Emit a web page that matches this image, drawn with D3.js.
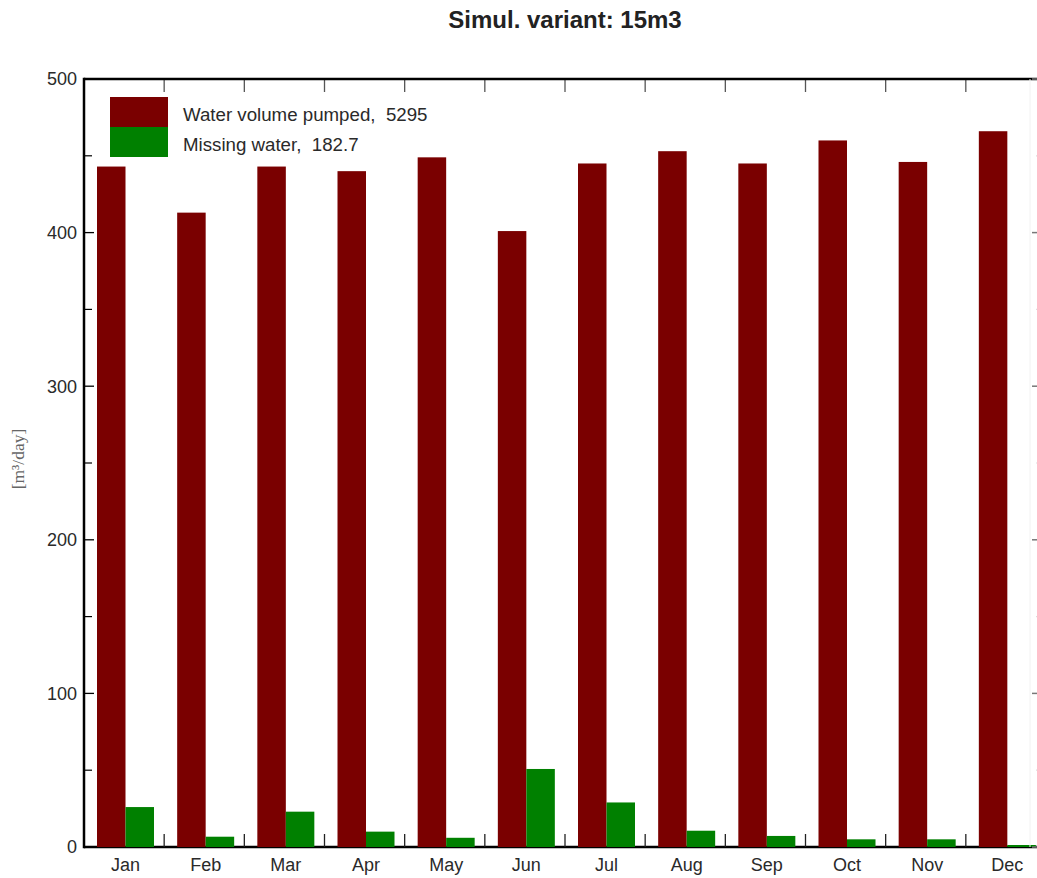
<!DOCTYPE html>
<html>
<head>
<meta charset="utf-8">
<script src="https://cdn.jsdelivr.net/npm/d3@7"></script>
<style>
  html, body { margin: 0; padding: 0; background: #fff; }
  svg { display: block; }
</style>
</head>
<body>
<svg id="chart" width="1037" height="878"></svg>
<script>
// Monthly pumped volume and missing water, simulation variant 15m3
const months = ["Jan", "Feb", "Mar", "Apr", "May", "Jun", "Jul", "Aug", "Sep", "Oct", "Nov", "Dec"];
const pumped = [443, 413, 443, 440, 449, 401, 445, 453, 445, 460, 446, 466];
const missing = [26, 6.7, 23, 10, 6, 50.8, 29, 10.6, 7.2, 5, 5, 1.3];
const yTicks = [0, 100, 200, 300, 400, 500];
const yMinorTicks = [50, 150, 250, 350, 450];
const seriesNames = ["Water volume pumped,  5295", "Missing water,  182.7"];
const seriesColors = ["#7a0000", "#008000"];

const svg = d3.select("#chart");
const plotLeft = 84, plotRight = 1046, plotTop = 79, plotBottom = 847;

const x = d3.scaleBand().domain(months).range([plotLeft, plotRight]).padding(0);
const sub = d3.scaleBand().domain([0, 1]).range([13, 70]).padding(0);
const y = d3.scaleLinear().domain([0, 500]).range([plotBottom, plotTop]);

// bottom axis line (bars are painted over it)
svg.append("line")
  .attr("x1", plotLeft).attr("x2", plotRight).attr("y1", plotBottom).attr("y2", plotBottom)
  .attr("stroke", "#000").attr("stroke-width", 2.5);

// separator ticks between months
const seps = months.slice(1).map(m => x(m));
svg.selectAll("line.sepBottom").data(seps).join("line")
  .attr("class", "sepBottom")
  .attr("x1", d => d).attr("x2", d => d)
  .attr("y1", plotBottom).attr("y2", plotBottom - 13)
  .attr("stroke", "#222").attr("stroke-width", 1.3);
svg.selectAll("line.sepTop").data(seps).join("line")
  .attr("class", "sepTop")
  .attr("x1", d => d).attr("x2", d => d)
  .attr("y1", plotTop).attr("y2", plotTop + 13)
  .attr("stroke", "#555").attr("stroke-width", 1.3);

// bars
const groups = svg.selectAll("g.month").data(months).join("g")
  .attr("class", "month")
  .attr("transform", d => `translate(${x(d)},0)`);
groups.append("rect")
  .attr("x", sub(0)).attr("width", sub.bandwidth())
  .attr("y", (d, i) => y(pumped[i]))
  .attr("height", (d, i) => y(0) - y(pumped[i]))
  .attr("fill", seriesColors[0]);
groups.append("rect")
  .attr("x", sub(1)).attr("width", sub.bandwidth())
  .attr("y", (d, i) => y(missing[i]))
  .attr("height", (d, i) => y(0) - y(missing[i]))
  .attr("fill", seriesColors[1]);

// month labels
svg.selectAll("text.month").data(months).join("text")
  .attr("class", "month")
  .attr("x", d => x(d) + sub(1))
  .attr("y", 871)
  .attr("text-anchor", "middle")
  .attr("font-family", "Liberation Sans, Arial, sans-serif")
  .attr("font-size", 18)
  .attr("fill", "#2a2a2a")
  .text(d => d);

// frame: left and top
svg.append("line")
  .attr("x1", plotLeft).attr("x2", plotLeft).attr("y1", plotTop - 1.25).attr("y2", plotBottom + 1.25)
  .attr("stroke", "#000").attr("stroke-width", 2.5);
svg.append("line")
  .attr("x1", plotLeft).attr("x2", plotRight).attr("y1", plotTop).attr("y2", plotTop)
  .attr("stroke", "#000").attr("stroke-width", 2.5);
svg.append("line")
  .attr("x1", 1030).attr("x2", 1030).attr("y1", plotTop).attr("y2", plotBottom)
  .attr("stroke", "#f2f2f2").attr("stroke-width", 1);

// left axis ticks
svg.selectAll("line.ytick").data(yTicks).join("line")
  .attr("class", "ytick")
  .attr("x1", plotLeft).attr("x2", plotLeft + 10)
  .attr("y1", d => y(d)).attr("y2", d => y(d))
  .attr("stroke", "#000").attr("stroke-width", 1.3);
svg.selectAll("line.yminor").data(yMinorTicks).join("line")
  .attr("class", "yminor")
  .attr("x1", plotLeft).attr("x2", plotLeft + 8)
  .attr("y1", d => y(d)).attr("y2", d => y(d))
  .attr("stroke", "#000").attr("stroke-width", 1.2);

// right axis ticks
svg.selectAll("line.rtick").data(yTicks).join("line")
  .attr("class", "rtick")
  .attr("x1", plotRight).attr("x2", plotRight - 14)
  .attr("y1", d => y(d)).attr("y2", d => y(d))
  .attr("stroke", "#777").attr("stroke-width", 1.5);
svg.selectAll("line.rminor").data(yMinorTicks).join("line")
  .attr("class", "rminor")
  .attr("x1", plotRight).attr("x2", plotRight - 10)
  .attr("y1", d => y(d)).attr("y2", d => y(d))
  .attr("stroke", "#ddd").attr("stroke-width", 1.2);

// y tick labels
svg.selectAll("text.ylab").data(yTicks).join("text")
  .attr("class", "ylab")
  .attr("x", 77)
  .attr("y", d => y(d))
  .attr("dy", "0.35em")
  .attr("text-anchor", "end")
  .attr("font-family", "Liberation Sans, Arial, sans-serif")
  .attr("font-size", 18)
  .attr("fill", "#2a2a2a")
  .text(d => d);

// y axis title
svg.append("text")
  .attr("transform", "translate(24,459) rotate(-90)")
  .attr("text-anchor", "middle")
  .attr("font-family", "Liberation Serif, Times New Roman, serif")
  .attr("font-size", 17.5)
  .attr("fill", "#666")
  .text("[m³/day]");

// chart title
svg.append("text")
  .attr("x", 565).attr("y", 28)
  .attr("text-anchor", "middle")
  .attr("font-family", "Liberation Sans, Arial, sans-serif")
  .attr("font-weight", "bold")
  .attr("font-size", 24)
  .attr("fill", "#222")
  .text("Simul. variant: 15m3");

// legend
const legend = svg.append("g");
legend.selectAll("rect").data(seriesColors).join("rect")
  .attr("x", 110).attr("width", 58)
  .attr("y", (d, i) => 97 + i * 30)
  .attr("height", 30)
  .attr("fill", d => d);
legend.selectAll("text").data(seriesNames).join("text")
  .attr("x", 183)
  .attr("y", (d, i) => 121 + i * 29.5)
  .attr("font-family", "Liberation Sans, Arial, sans-serif")
  .attr("font-size", 18.7)
  .attr("fill", "#2a2a2a")
  .attr("xml:space", "preserve")
  .style("white-space", "pre")
  .text(d => d);
</script>
</body>
</html>
